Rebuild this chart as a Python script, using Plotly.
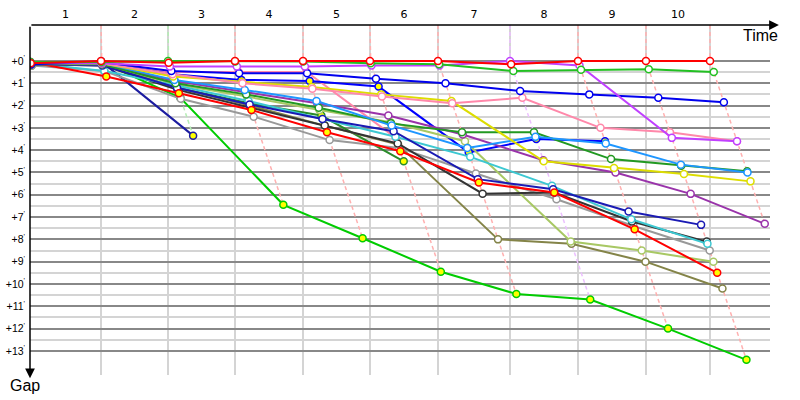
import plotly.graph_objects as go

# leader crossing times for laps 1..10 (same unit as the gaps)
lap_times = [9.47, 18.4, 27.33, 36.4, 45.33, 54.4, 64.0, 73.07, 82.13, 90.67]
lap_labels = ['1', '2', '3', '4', '5', '6', '7', '8', '9', '10']
gap_ticks = list(range(0, 14))

# gap to the leader at the start (lap 0) and after every lap
gap_navy2 = [0.2, 0.02, 3.35]
gap_pink2 = [0.1, 0.1, 0.5, 0.5, 0.5, 3.45]
gap_dkgreen2 = [0.15, 0.15, 1.2, 1.9, 2.45, 4.5]
gap_blue3 = [0.1, 0.1, 0.6, 0.85, 0.9, 1.15, 4.1, 3.5, 3.6]
gap_greenf = [0.05, 0.05, 1.65, 6.45, 7.95, 9.45, 10.45, 10.7, 12.0, 13.4]
gap_olive = [0.2, 0.15, 1.2, 2.0, 2.9, 3.75, 8.0, 8.2, 9.0, 10.2]
gap_ltgreen = [0.2, 0.15, 1.05, 1.6, 2.2, 2.75, 3.6, 8.1, 8.5, 9.0]
gap_gray = [0.2, 0.45, 1.7, 2.5, 3.55, 3.9, 5.05, 6.2, 7.4, 8.5]
gap_black = [0.15, 0.2, 1.3, 2.1, 2.9, 3.7, 5.95, 5.9, 7.2, 8.1]
gap_cyan = [0.1, 0.45, 1.1, 1.8, 2.6, 3.4, 4.3, 5.6, 7.1, 8.2]
gap_navy = [0.15, 0.2, 1.2, 1.95, 2.6, 3.15, 5.3, 5.75, 6.75, 7.35]
gap_red2 = [0.05, 0.7, 1.45, 2.2, 3.2, 4.05, 5.45, 5.9, 7.55, 9.5]
gap_purple = [0.15, 0.15, 0.9, 1.4, 1.9, 2.45, 3.3, 4.45, 5.0, 5.96, 7.3]
gap_dkgreen = [0.15, 0.15, 1.0, 1.5, 2.1, 2.8, 3.2, 3.2, 4.4, 4.7, 4.95]
gap_ltblue = [0.1, 0.1, 0.85, 1.3, 1.8, 2.9, 3.9, 3.4, 3.7, 4.65, 5.0]
gap_yellow = [0.1, 0.1, 0.7, 0.95, 1.17, 1.5, 1.8, 4.5, 4.8, 5.07, 5.4]
gap_pink = [0.1, 0.1, 0.6, 1.0, 1.25, 1.6, 1.9, 1.65, 3.0, 3.2, 3.6]
gap_blue = [0.15, 0.05, 0.45, 0.55, 0.55, 0.8, 1.0, 1.35, 1.5, 1.65, 1.85]
gap_violet = [0.05, 0.1, 0.25, 0.25, 0.25, 0.2, 0.2, 0.0, 0.2, 3.45, 3.6]
gap_green = [0.05, 0.05, 0.0, 0.03, 0.03, 0.1, 0.15, 0.45, 0.4, 0.37, 0.5]
gap_red = [0.1, 0.0, 0.08, 0.0, 0.0, 0.0, 0.0, 0.15, 0.0, 0.0, 0.0]

# (colour, marker fill, gaps), drawn bottom to top
drivers = [
    ('#1c1ca0', '#ffff00', gap_navy2),
    ('#ff88aa', '#ffff00', gap_pink2),
    ('#2a8c2a', '#ffff00', gap_dkgreen2),
    ('#0000ff', '#ffff00', gap_blue3),
    ('#00cc00', '#ffff00', gap_greenf),
    ('#848448', 'white', gap_olive),
    ('#a8c864', 'white', gap_ltgreen),
    ('#999999', 'white', gap_gray),
    ('#333333', 'white', gap_black),
    ('#3cc8d2', 'white', gap_cyan),
    ('#1a1ab4', 'white', gap_navy),
    ('#ff0000', '#ffff00', gap_red2),
    ('#9933aa', 'white', gap_purple),
    ('#229922', 'white', gap_dkgreen),
    ('#1e96ff', 'white', gap_ltblue),
    ('#dddd00', 'white', gap_yellow),
    ('#ff88aa', 'white', gap_pink),
    ('#0000ee', 'white', gap_blue),
    ('#c040ff', 'white', gap_violet),
    ('#22c022', 'white', gap_green),
    ('#ff0000', 'white', gap_red),
]

# faded colour of a lap line, picked from the lap leader
lap_line_colors = {'#ff0000': '#ffb0b0', '#22c022': '#b4ecb4', '#c040ff': '#ecc0ff'}

y_top = -1.61
y_bottom = 14.08
x_max = 98.67


def crossing_x(lap, gap):
    if lap == 0:
        return gap
    return lap_times[lap - 1] + gap


fig = go.Figure()

# dashed lap lines through every driver's crossing of that lap
for lap in range(1, len(lap_times) + 1):
    pts = []
    for color, fill, gaps in drivers:
        if len(gaps) > lap:
            pts.append((gaps[lap], crossing_x(lap, gaps[lap]), color))
    pts.sort(key=lambda p: p[0])
    leader_color = pts[0][2]
    xs = [lap_times[lap - 1]] + [p[1] for p in pts]
    ys = [y_top] + [p[0] for p in pts]
    fig.add_trace(go.Scatter(
        x=xs, y=ys, mode='lines',
        line=dict(color=lap_line_colors.get(leader_color, '#ffb0b0'), width=1.5, dash='4px,3px'),
        hoverinfo='skip', showlegend=False,
    ))

for color, fill, gaps in drivers:
    fig.add_trace(go.Scatter(
        x=[crossing_x(i, g) for i, g in enumerate(gaps)],
        y=gaps,
        mode='lines+markers',
        line=dict(color=color, width=2),
        marker=dict(size=7, color=fill, line=dict(color=color, width=1.5)),
        hoverinfo='skip', showlegend=False,
    ))

starts = [0] + lap_times
lap_mids = [(starts[i] + starts[i + 1]) / 2 for i in range(len(lap_times))]

fig.update_layout(
    width=800, height=400,
    margin=dict(l=30, r=30, t=25, b=25),
    plot_bgcolor='white', paper_bgcolor='white',
    font=dict(family='DejaVu Sans', color='black'),
    xaxis=dict(
        side='top', range=[0, x_max], automargin=False,
        tickmode='array', tickvals=lap_mids, ticktext=lap_labels,
        tickfont=dict(size=11), ticks='', ticklen=0, ticklabelstandoff=4,
        showgrid=False, zeroline=False, showline=False,
        minor=dict(tickmode='array', tickvals=lap_times, showgrid=True,
                   gridcolor='#d4d4d4', gridwidth=1.5, ticks=''),
    ),
    yaxis=dict(
        range=[y_bottom, y_top], automargin=False,
        tickmode='array', tickvals=gap_ticks,
        ticktext=["+%d<sup>'</sup>" % g for g in gap_ticks],
        tickfont=dict(family='Liberation Sans', size=10.5), ticks='', ticklen=0,
        ticklabelstandoff=4,
        showgrid=True, gridcolor='#888888', gridwidth=1.5,
        zeroline=False, showline=False,
        minor=dict(tickmode='array', tickvals=[g + 0.5 for g in gap_ticks[:-1]],
                   showgrid=True, gridcolor='#d4d4d4', gridwidth=1.5, ticks=''),
    ),
    annotations=[
        dict(x=1.012, y=1, xref='paper', yref='paper', text='', showarrow=True,
             ax=-749, ay=0, arrowhead=2, arrowsize=1.3, arrowwidth=1.5, arrowcolor='black'),
        dict(x=0, y=-0.009, xref='paper', yref='paper', text='', showarrow=True,
             ax=0, ay=-353, arrowhead=2, arrowsize=1.3, arrowwidth=1.5, arrowcolor='black'),
        dict(x=0.9865, y=0.9714, xref='paper', yref='paper', text='Time', showarrow=False,
             xanchor='center', yanchor='middle', font=dict(family='Liberation Sans', size=16)),
        dict(x=-0.0074, y=-0.0314, xref='paper', yref='paper', text='Gap', showarrow=False,
             xanchor='center', yanchor='middle', font=dict(family='Liberation Sans', size=16)),
    ],
)

# drop the page's default body margin so the figure sits at the window corner
fig.write_html('out.html', config={'displayModeBar': False},
               post_script="document.body.style.margin = '0px';")
